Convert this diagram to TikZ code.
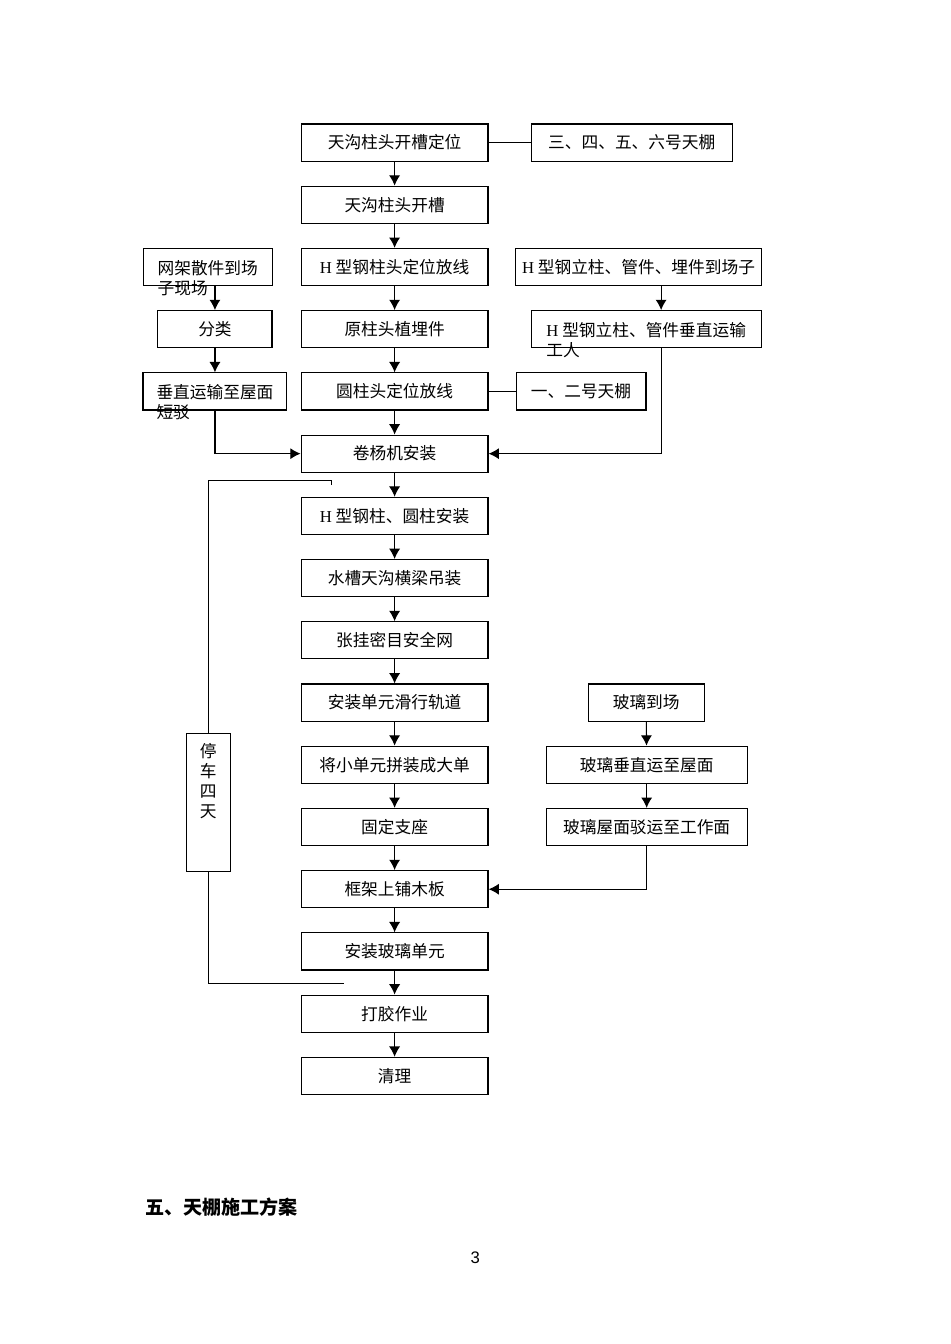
\documentclass[tikz,border=0pt]{standalone}
\usepackage{fontspec}
\setmainfont{Noto Sans CJK SC}
\newfontfamily\latinfont{Liberation Serif}
\newfontfamily\pagefont{Liberation Sans}
\usetikzlibrary{arrows.meta}

% Latin H in front of a CJK label
\newcommand{\Hs}{{\latinfont H}\ }
% first line inside the box, second line runs out below it
\newcommand{\spill}[2]{\raisebox{0pt}[\height][0pt]{\begin{tabular}[t]{@{}l@{}}#1\\#2\end{tabular}}}

\tikzset{
  box/.style={draw, line width=0.7pt, minimum height=0.82cm, inner sep=0pt,
    font=\fontsize{10.5}{12.6}\selectfont},
  mainbox/.style={box, minimum width=4.13cm},
  link/.style={line width=0.7pt},
  arr/.style={link, -{Latex[length=6.5pt,width=7pt]}},
}

\begin{document}
\begin{tikzpicture}
\useasboundingbox (0,0) rectangle (21,-29.7);

% main column
\foreach \t [count=\i] in {天沟柱头开槽定位, 天沟柱头开槽, \Hs 型钢柱头定位放线,
    原柱头植埋件, 圆柱头定位放线, 卷杨机安装, \Hs 型钢柱、圆柱安装,
    水槽天沟横梁吊装, 张挂密目安全网, 安装单元滑行轨道, 将小单元拼装成大单,
    固定支座, 框架上铺木板, 安装玻璃单元, 打胶作业, 清理} {
  \node[mainbox] (m\i) at (8.72, {-3.15-1.375*(\i-1)}) {\t};
}

\foreach \i in {1,...,15} {
  \pgfmathtruncatemacro{\j}{\i+1}
  \draw[arr] (m\i) -- (m\j);
}

% right of the first rows
\node[box, minimum width=4.44cm] (roof3) at (13.96,-3.15) {三、四、五、六号天棚};
\draw[link] (m1) -- (roof3);

\node[box, minimum width=2.87cm] (roof1) at (12.84,-8.65) {一、二号天棚};
\draw[link] (m5) -- (roof1);

% grid parts on the left
\node[box, minimum width=2.85cm] (parts) at (4.59,-5.90) {\spill{网架散件到场}{子现场}};
\node[box, minimum width=2.52cm] (sort) at (4.75,-7.275) {分类};
\node[box, minimum width=3.18cm] (lift) at (4.75,-8.65) {\spill{垂直运输至屋面}{短驳}};

\draw[arr] (parts.south -| sort.north) -- (sort.north);
\draw[arr] (sort) -- (lift);
\draw[arr] (lift.south) |- (m6.west);

% steel parts on the right
\coordinate (rx) at (14.61,0);
\node[box, minimum width=5.42cm] (steel) at (14.11,-5.90) {\Hs 型钢立柱、管件、埋件到场子};
\node[box, minimum width=5.08cm] (steelup) at (14.28,-7.275) {\spill{\Hs 型钢立柱、管件垂直运输}{工人}};

\draw[arr] (steel.south -| rx) -- (steelup.north -| rx);
\draw[arr] (steelup.south -| rx) |- (m6.east);

% glass
\node[box, minimum width=2.56cm] (glass) at (14.28,-15.525) {玻璃到场};
\node[box, minimum width=4.44cm] (glassup) at (14.29,-16.90) {玻璃垂直运至屋面};
\node[box, minimum width=4.44cm] (glassmove) at (14.29,-18.275) {玻璃屋面驳运至工作面};

\draw[arr] (glass) -- (glassup);
\draw[arr] (glassup) -- (glassmove);
\draw[arr] (glassmove.south) |- (m13.east);

% four day stop
\node[box, minimum width=0.97cm, minimum height=3.05cm] (stop) at (4.6,-17.73)
  {\parbox[c][2.6cm][t]{1em}{\centering 停\\车\\四\\天}};
\coordinate (looptick) at (7.32,-10.72);
\coordinate (loopend) at (7.60,-21.73);
\draw[link] (looptick) -- ++(0,0.11) -| (stop.north);
\draw[link] (stop.south) |- (loopend);

% heading and page number
\node[anchor=west, inner sep=0pt, font=\fontsize{12}{14}\selectfont\bfseries] (title)
  at (3.2,-26.68) {五、天棚施工方案};
\node[inner sep=0pt, font=\pagefont\fontsize{10.5}{12}\selectfont] (pagenum) at (10.5,-27.79) {3};

\end{tikzpicture}
\end{document}
